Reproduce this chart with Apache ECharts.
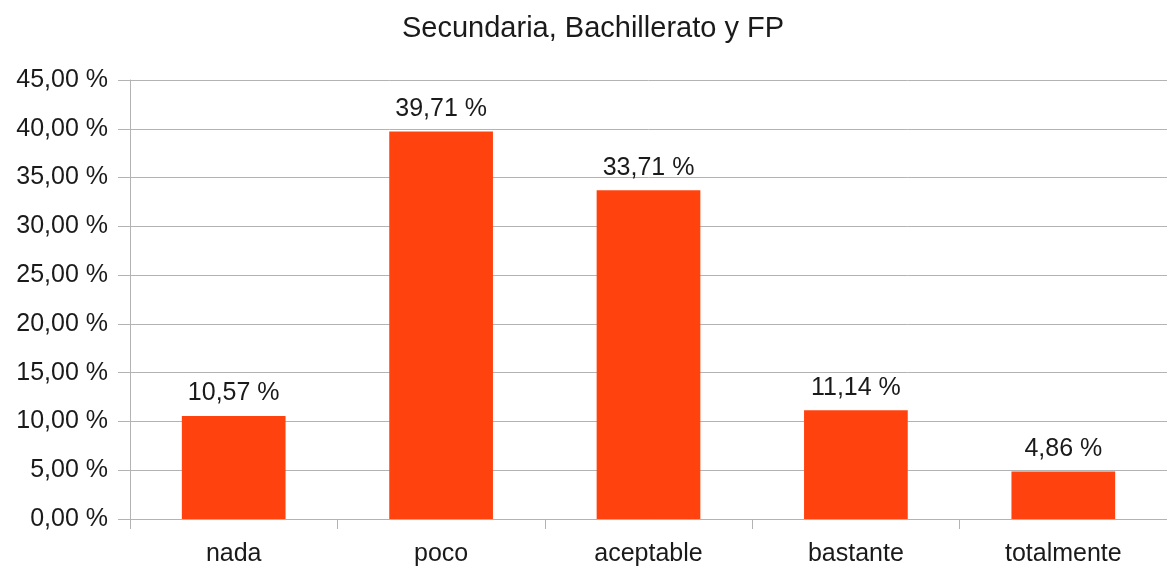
<!DOCTYPE html>
<html>
<head>
<meta charset="utf-8">
<title>Secundaria, Bachillerato y FP</title>
<script src="https://cdn.jsdelivr.net/npm/echarts@6/dist/echarts.min.js"></script>
<style>
  html, body { margin: 0; padding: 0; background: #fff; }
  #chart { width: 1167px; height: 567px; }
</style>
</head>
<body>
<div id="chart"></div>
<script>
// datos del gráfico
const categories = ['nada', 'poco', 'aceptable', 'bastante', 'totalmente'];
const values = [10.57, 39.71, 33.71, 11.14, 4.86];
const yTicks = { min: 0, max: 45, interval: 5 };

const FONT = '"Liberation Sans", Arial, sans-serif';
const TEXT_COLOR = '#1a1a1a';
const GRID_COLOR = '#b3b3b3';
const BAR_COLOR = '#ff420e';

// 12,34 %
function pct(v) {
  return v.toFixed(2).replace('.', ',') + ' %';
}

const chart = echarts.init(document.getElementById('chart'));

chart.setOption({
  backgroundColor: '#fff',
  animation: false,
  title: {
    text: 'Secundaria, Bachillerato y FP',
    left: 397,
    top: 9,
    textStyle: { fontFamily: FONT, fontSize: 29, fontWeight: 'normal', color: TEXT_COLOR },
  },
  grid: { left: 130, top: 80, width: 1040, height: 440, containLabel: false },
  xAxis: {
    type: 'category',
    data: categories,
    axisLine: { lineStyle: { color: GRID_COLOR, width: 1 } },
    axisTick: { show: true, length: 10, alignWithLabel: false, lineStyle: { color: GRID_COLOR } },
    axisLabel: { fontFamily: FONT, fontSize: 25, color: TEXT_COLOR, margin: 23 },
  },
  yAxis: {
    type: 'value',
    min: yTicks.min,
    max: yTicks.max,
    interval: yTicks.interval,
    axisLine: { show: true, lineStyle: { color: GRID_COLOR, width: 1 } },
    axisTick: { show: true, length: 12, lineStyle: { color: GRID_COLOR } },
    splitLine: { show: true, lineStyle: { color: GRID_COLOR, width: 1 } },
    axisLabel: {
      fontFamily: FONT, fontSize: 25, color: TEXT_COLOR, margin: 22,
      formatter: (v) => pct(v),
    },
  },
  series: [{
    type: 'bar',
    data: values,
    barWidth: '50%',
    itemStyle: { color: BAR_COLOR },
    label: {
      show: true,
      position: 'top',
      distance: 10,
      fontFamily: FONT,
      fontSize: 25,
      color: TEXT_COLOR,
      formatter: (p) => pct(p.value),
    },
  }],
});
</script>
</body>
</html>
